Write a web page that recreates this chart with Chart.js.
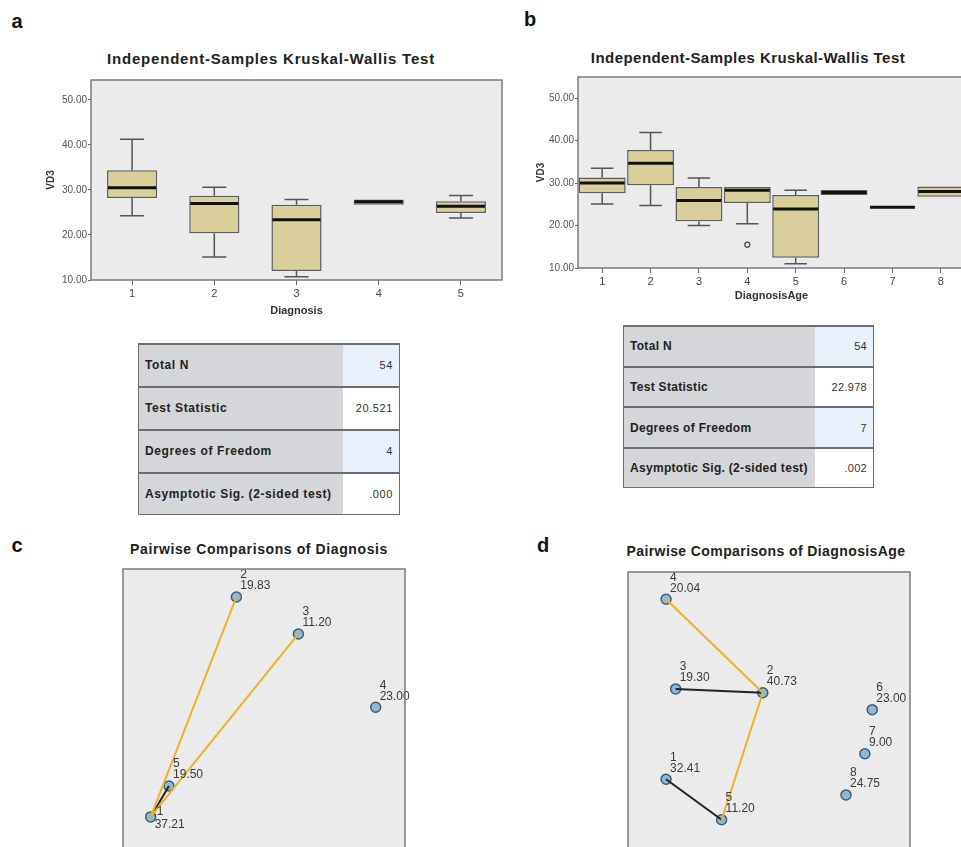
<!DOCTYPE html>
<html>
<head>
<meta charset="utf-8">
<title>Kruskal-Wallis VD3</title>
<script src="https://cdn.jsdelivr.net/npm/chart.js"></script>
<style>
    body { margin: 0; overflow: hidden; background: #fff; font-family: "Liberation Sans", Arial, sans-serif; }
    #page { position: relative; width: 961px; height: 847px; overflow: hidden; background: #fff; }
    #page canvas { position: absolute; }
    .txt { position: absolute; white-space: nowrap; color: #222; transform: translate(-50%, -50%); }
    .letter { font-weight: bold; font-size: 20px; color: #111; }
    .title { font-weight: bold; font-size: 15px; }
    .title2 { font-weight: bold; font-size: 14px; }
    table.kw { position: absolute; border-collapse: collapse; border: 1.5px solid #6d6d6d; }
    table.kw td { border-top: 2px solid #6d6d6d; padding: 0 6px; color: #222; }
    table.kw td.lab { background: #d5d6d9; font-weight: bold; font-size: 12px; text-align: left; }
    table.kw td.val { text-align: right; font-size: 11px; color: #333; }
</style>
</head>
<body>
<div id="page">
    <div class="txt letter" style="left:17px;top:21px">a</div>
    <div class="txt letter" style="left:530px;top:19px">b</div>
    <div class="txt letter" style="left:17px;top:545px">c</div>
    <div class="txt letter" style="left:543px;top:545px">d</div>

    <div class="txt title" style="left:271px;top:58px;letter-spacing:0.8px">Independent-Samples Kruskal-Wallis Test</div>
    <div class="txt title" style="left:748px;top:57px;letter-spacing:0.45px">Independent-Samples Kruskal-Wallis Test</div>
    <div class="txt title2" style="left:259px;top:549px;letter-spacing:0.6px">Pairwise Comparisons of Diagnosis</div>
    <div class="txt title2" style="left:766px;top:551px;letter-spacing:0.4px">Pairwise Comparisons of DiagnosisAge</div>

    <canvas id="boxDiag" width="472" height="252" style="left:38px;top:70px"></canvas>
    <canvas id="boxAge" width="447" height="240" style="left:528px;top:67px"></canvas>
    <canvas id="pairDiag" width="300" height="300" style="left:122px;top:568px"></canvas>
    <canvas id="pairAge" width="300" height="298" style="left:627px;top:571px"></canvas>

    <table class="kw" id="tabDiag" style="left:138px;top:343px;width:262px;height:172px;letter-spacing:0.6px"></table>
    <table class="kw" id="tabAge" style="left:623px;top:325px;width:251px;height:163px;letter-spacing:0.3px"></table>
</div>

<script>
    // panel a: VD3 by Diagnosis
    const diagCats = ['1', '2', '3', '4', '5'];
    const diagLow  = [24.3, 15.1, 10.7, 26.7, 23.8];
    const diagQ1   = [28.2, 20.4, 12.0, 26.7, 24.9];
    const diagMed  = [30.5, 27.0, 23.4, 27.4, 26.4];
    const diagQ3   = [34.4, 28.7, 26.7, 27.9, 27.5];
    const diagHigh = [41.3, 30.6, 27.9, 27.9, 28.8];

    // panel b: VD3 by DiagnosisAge
    const ageCats = ['1', '2', '3', '4', '5', '6', '7', '8'];
    const ageLow  = [25.1, 24.7, 20.0, 20.4, 11.0, 27.2, 24.3, 26.8];
    const ageQ1   = [27.6, 29.5, 21.0, 25.3, 12.4, 27.2, 24.3, 26.8];
    const ageMed  = [30.0, 34.7, 25.9, 28.3, 23.9, 27.8, 24.3, 28.0];
    const ageQ3   = [31.3, 37.8, 29.1, 29.1, 27.2, 28.4, 24.3, 29.2];
    const ageHigh = [33.5, 41.9, 31.2, 29.1, 28.3, 28.4, 24.3, 29.2];
    const ageOutliers = [['4', 15.5]];

    const yTickValues = [10, 20, 30, 40, 50];

    // test tables
    const tableLabels = ['Total N', 'Test Statistic', 'Degrees of Freedom', 'Asymptotic Sig. (2-sided test)'];
    const diagTable = ['54', '20.521', '4', '.000'];
    const ageTable  = ['54', '22.978', '7', '.002'];

    // panel c: pairwise comparisons of Diagnosis (node layout coords and mean ranks)
    const diagNodes = ['1', '2', '3', '4', '5'];
    const diagNodeX = [9.8, 40.2, 62.2, 89.6, 16.3];
    const diagNodeY = [16.8, 90.6, 78.2, 53.6, 27.2];
    const diagRanks = ['37.21', '19.83', '11.20', '23.00', '19.50'];
    const diagSigPairs = [['1', '2'], ['1', '3']];
    const diagNsPairs  = [['1', '5']];

    // panel d: pairwise comparisons of DiagnosisAge
    const ageNodes = ['1', '2', '3', '4', '5', '6', '7', '8'];
    const ageNodeX = [13.5, 47.8, 16.9, 13.5, 33.2, 86.6, 84.0, 77.3];
    const ageNodeY = [30.0, 59.2, 60.5, 90.8, 16.3, 53.5, 38.6, 24.7];
    const ageRanks = ['32.41', '40.73', '19.30', '20.04', '11.20', '23.00', '9.00', '24.75'];
    const ageSigPairs = [['4', '2'], ['2', '5']];
    const ageNsPairs  = [['3', '2'], ['1', '5']];

    function buildTable(id, values) {
        const t = document.getElementById(id);
        tableLabels.forEach((lab, i) => {
            const tr = document.createElement('tr');
            const a = document.createElement('td');
            a.className = 'lab';
            a.textContent = lab;
            const b = document.createElement('td');
            b.className = 'val';
            b.textContent = values[i];
            b.style.background = i % 2 === 0 ? '#e8f1fb' : '#ffffff';
            tr.appendChild(a);
            tr.appendChild(b);
            t.appendChild(tr);
        });
    }
    buildTable('tabDiag', diagTable);
    buildTable('tabAge', ageTable);
    document.querySelector('#tabDiag td.lab').style.width = '192px';
    document.querySelector('#tabAge td.lab').style.width = '179px';

    // grey plot background and frame
    const plotFrame = {
        id: 'plotFrame',
        beforeDraw(chart) {
            const a = chart.chartArea, ctx = chart.ctx;
            ctx.save();
            ctx.fillStyle = '#ebebeb';
            ctx.fillRect(a.left, a.top, a.right - a.left, a.bottom - a.top);
            ctx.restore();
        },
        afterDraw(chart) {
            const a = chart.chartArea, ctx = chart.ctx;
            ctx.save();
            ctx.strokeStyle = '#7b7b7b';
            ctx.lineWidth = 1.5;
            ctx.strokeRect(a.left, a.top, a.right - a.left, a.bottom - a.top);
            ctx.restore();
        }
    };

    // whiskers, medians and outliers on top of floating bars
    const boxParts = {
        id: 'boxParts',
        beforeDatasetsDraw(chart, args, o) {
            const meta = chart.getDatasetMeta(0), y = chart.scales.y, ctx = chart.ctx;
            ctx.save();
            ctx.strokeStyle = '#555';
            ctx.lineWidth = 1.5;
            meta.data.forEach((bar, i) => {
                const cap = bar.width * o.capFrac / 2;
                [[o.q3[i], o.high[i]], [o.q1[i], o.low[i]]].forEach(([from, to]) => {
                    if (to === from) return;
                    const y0 = y.getPixelForValue(from), y1 = y.getPixelForValue(to);
                    ctx.beginPath();
                    ctx.moveTo(bar.x, y0);
                    ctx.lineTo(bar.x, y1);
                    ctx.moveTo(bar.x - cap, y1);
                    ctx.lineTo(bar.x + cap, y1);
                    ctx.stroke();
                });
            });
            ctx.restore();
        },
        afterDatasetsDraw(chart, args, o) {
            const meta = chart.getDatasetMeta(0), y = chart.scales.y, x = chart.scales.x, ctx = chart.ctx;
            ctx.save();
            ctx.strokeStyle = '#111';
            ctx.lineWidth = 3;
            meta.data.forEach((bar, i) => {
                const ym = y.getPixelForValue(o.med[i]);
                ctx.beginPath();
                ctx.moveTo(bar.x - bar.width / 2 + 1, ym);
                ctx.lineTo(bar.x + bar.width / 2 - 1, ym);
                ctx.stroke();
            });
            ctx.lineWidth = 1.2;
            ctx.strokeStyle = '#444';
            (o.outliers || []).forEach(([cat, v]) => {
                ctx.beginPath();
                ctx.arc(x.getPixelForValue(x.getLabels().indexOf(cat)), y.getPixelForValue(v), 2.5, 0, Math.PI * 2);
                ctx.stroke();
            });
            ctx.restore();
        }
    };

    function boxChart(id, cats, low, q1, med, q3, high, outliers, yMax, barPct, yWidth, xHeight, xTitle, padRight) {
        return new Chart(document.getElementById(id), {
            type: 'bar',
            data: {
                labels: cats,
                datasets: [{
                    data: q1.map((v, i) => [v, q3[i]]),
                    backgroundColor: '#d9cf9b',
                    borderColor: '#5e5e5e',
                    borderWidth: 1.5,
                    borderSkipped: false,
                    barPercentage: barPct,
                    categoryPercentage: 1
                }]
            },
            options: {
                responsive: false,
                animation: false,
                devicePixelRatio: 1,
                layout: { padding: { top: 10, right: padRight, left: 0, bottom: 0 } },
                plugins: {
                    legend: { display: false },
                    tooltip: { enabled: false },
                    boxParts: { low: low, q1: q1, med: med, q3: q3, high: high, outliers: outliers, capFrac: 0.48 }
                },
                scales: {
                    x: {
                        grid: { display: true, offset: false, drawOnChartArea: false, drawTicks: true, tickLength: 5, color: '#666' },
                        border: { display: false },
                        ticks: { color: '#444', font: { size: 11, family: 'Liberation Sans' }, padding: 2 },
                        title: { display: true, text: xTitle, color: '#333', padding: { top: 0, bottom: 4 },
                                 font: { size: 11, weight: 'bold', family: 'Liberation Sans' } },
                        afterFit(s) { s.height = xHeight; }
                    },
                    y: {
                        min: 10,
                        max: yMax,
                        afterBuildTicks(s) { s.ticks = yTickValues.map(v => ({ value: v })); },
                        grid: { display: true, drawOnChartArea: false, drawTicks: true, tickLength: 3, color: '#666' },
                        border: { display: false },
                        ticks: { color: '#555', font: { size: 10, family: 'Liberation Sans' }, padding: 1,
                                 callback: v => Number(v).toFixed(2) },
                        title: { display: true, text: 'VD3', color: '#333', padding: { top: 7, bottom: 0 },
                                 font: { size: 10, weight: 'bold', family: 'Liberation Sans' } },
                        afterFit(s) { s.width = yWidth; }
                    }
                }
            },
            plugins: [plotFrame, boxParts]
        });
    }

    boxChart('boxDiag', diagCats, diagLow, diagQ1, diagMed, diagQ3, diagHigh, [], 54.44, 0.61, 53, 42, 'Diagnosis', 8);
    boxChart('boxAge', ageCats, ageLow, ageQ1, ageMed, ageQ3, ageHigh, ageOutliers, 55.0, 0.97, 50, 39, 'DiagnosisAge', 10);

    // node labels: id above value, to the upper right of each node
    const nodeLabels = {
        id: 'nodeLabels',
        afterDatasetsDraw(chart, args, o) {
            const ds = chart.data.datasets.length - 1;
            const meta = chart.getDatasetMeta(ds), ctx = chart.ctx;
            ctx.save();
            ctx.fillStyle = '#3a3a3a';
            ctx.font = '12px "Liberation Sans", Arial';
            ctx.textBaseline = 'middle';
            ctx.textAlign = 'left';
            meta.data.forEach((pt, i) => {
                const below = (o.below || []).includes(o.names[i]);
                ctx.fillText(o.names[i], pt.x + (below ? 6 : 4), pt.y + (below ? -5 : -22));
                ctx.fillText(o.ranks[i], pt.x + 4, pt.y + (below ? 8 : -11));
            });
            ctx.restore();
        }
    };

    function pairChart(id, names, xs, ys, ranks, sigPairs, nsPairs, below) {
        const pos = n => ({ x: xs[names.indexOf(n)], y: ys[names.indexOf(n)] });
        const edge = (p, color) => ({
            type: 'scatter',
            data: [pos(p[0]), pos(p[1])],
            showLine: true,
            borderColor: color,
            borderWidth: 2,
            pointRadius: 0
        });
        const datasets = sigPairs.map(p => edge(p, '#e8b52a'))
            .concat(nsPairs.map(p => edge(p, '#222')));
        datasets.push({
            data: names.map(n => pos(n)),
            pointRadius: 5,
            pointBackgroundColor: '#8fb8d6',
            pointBorderColor: '#3e5d73',
            pointBorderWidth: 1.5
        });
        return new Chart(document.getElementById(id), {
            type: 'scatter',
            data: { datasets: datasets },
            options: {
                responsive: false,
                animation: false,
                devicePixelRatio: 1,
                layout: { padding: { left: 1, top: 1, bottom: 1, right: 17 }, autoPadding: false },
                plugins: {
                    legend: { display: false },
                    tooltip: { enabled: false },
                    nodeLabels: { names: names, ranks: ranks, below: below }
                },
                scales: {
                    x: { display: false, min: 0, max: 100 },
                    y: { display: false, min: 0, max: 100 }
                }
            },
            plugins: [plotFrame, nodeLabels]
        });
    }

    pairChart('pairDiag', diagNodes, diagNodeX, diagNodeY, diagRanks, diagSigPairs, diagNsPairs, ['1']);
    pairChart('pairAge', ageNodes, ageNodeX, ageNodeY, ageRanks, ageSigPairs, ageNsPairs, []);
</script>
</body>
</html>
